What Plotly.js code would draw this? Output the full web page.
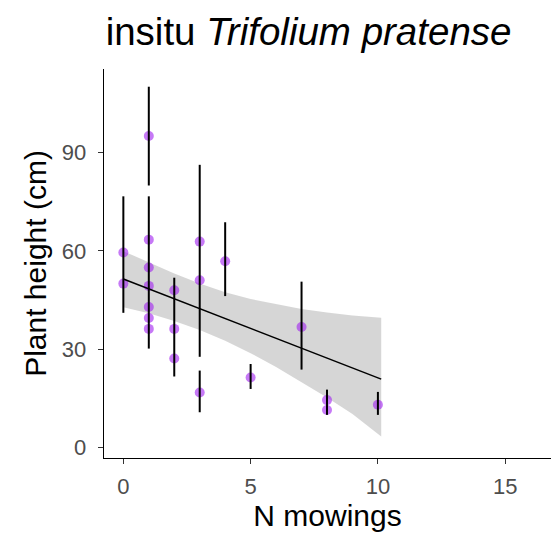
<!DOCTYPE html>
<html>
<head>
<meta charset="utf-8">
<script src="https://cdn.plot.ly/plotly-3.0.1.min.js"></script>
<style>html,body{margin:0;padding:0;background:#fff;}#chart{width:551px;height:536px;}</style>
</head>
<body>
<div id="chart"></div>
<script>
// Observations (N mowings vs plant height, cm)
const pointX = [0, 0, 1, 1, 1, 1, 1, 1, 1, 2, 2, 2, 3, 3, 3, 4, 5, 7, 8, 8, 10];
const pointY = [59.5, 50.0, 95.0, 63.4, 54.9, 49.3, 42.9, 39.5, 36.2, 48.0, 36.2, 27.2, 62.8, 51.0, 16.8, 56.8, 21.4, 36.8, 14.5, 11.5, 13.1];

// Error bars (vertical segments)
const errX    = [0, 1, 1, 2, 3, 3, 4, 5, 7, 8, 10];
const errLow  = [41.1, 79.9, 30.2, 21.7, 27.7, 10.8, 46.2, 17.9, 23.8, 10.0, 10.0];
const errHigh = [76.6, 110.0, 76.6, 51.8, 86.2, 23.5, 68.7, 25.5, 50.6, 17.7, 17.0];

// Linear fit and confidence band
const fitX = [0, 10.13];
const fitY = [51.4, 20.9];
const bandX     = [0, 1, 2, 3, 4, 5, 6, 7, 8, 9, 10.13];
const bandUpper = [59.9, 56.4, 53.1, 50.0, 47.4, 45.3, 43.7, 42.3, 41.2, 40.3, 39.6];
const bandLower = [42.8, 41.0, 38.6, 35.9, 32.6, 28.8, 24.6, 20.0, 15.3, 10.3, 3.4];

const xTicks = [0, 5, 10, 15];
const yTicks = [0, 30, 60, 90];

const ebx = [], eby = [];
errX.forEach((x, i) => { ebx.push(x, x, null); eby.push(errLow[i], errHigh[i], null); });

const traces = [
  {x: bandX, y: bandLower, mode: 'lines', line: {width: 0}, hoverinfo: 'skip', showlegend: false},
  {x: bandX, y: bandUpper, mode: 'lines', line: {width: 0}, fill: 'tonexty', fillcolor: 'rgba(153,153,153,0.4)', hoverinfo: 'skip', showlegend: false},
  {x: pointX, y: pointY, mode: 'markers', marker: {size: 10, color: 'rgba(160,32,240,0.6)', line: {width: 0}}, showlegend: false},
  {x: ebx, y: eby, mode: 'lines', line: {color: '#000', width: 2}, showlegend: false},
  {x: fitX, y: fitY, mode: 'lines', line: {color: '#000', width: 1.5}, showlegend: false}
];

const fontFam = 'Liberation Sans, Arial, sans-serif';
const layout = {
  width: 551, height: 536,
  margin: {l: 104, r: 0, t: 69, b: 78, pad: 0},
  paper_bgcolor: '#fff', plot_bgcolor: '#fff',
  font: {family: fontFam},
  title: {text: 'insitu <i>Trifolium pratense</i>', font: {size: 38.5, color: '#000', family: fontFam},
          x: 0.56, xref: 'container', xanchor: 'center', y: 0.942, yref: 'container', yanchor: 'middle'},
  xaxis: {
    range: [-0.76, 16.8], tickvals: xTicks, ticktext: xTicks.map(String),
    showgrid: false, zeroline: false, showline: true, linecolor: '#000', linewidth: 1.3,
    ticks: 'outside', ticklen: 5, tickwidth: 1.2, tickcolor: '#333',
    tickfont: {size: 22, color: '#4D4D4D', family: fontFam}, ticklabelstandoff: 3,
    title: {text: 'N mowings', font: {size: 30, color: '#000', family: fontFam}, standoff: 6},
    automargin: false
  },
  yaxis: {
    range: [-3.14, 115.4], tickvals: yTicks, ticktext: yTicks.map(String),
    showgrid: false, zeroline: false, showline: true, linecolor: '#000', linewidth: 1.3,
    ticks: 'outside', ticklen: 5, tickwidth: 1.2, tickcolor: '#333',
    tickfont: {size: 22, color: '#4D4D4D', family: fontFam}, ticklabelstandoff: 7,
    title: {text: 'Plant height (cm)', font: {size: 30, color: '#000', family: fontFam}, standoff: 6},
    automargin: false
  }
};

Plotly.newPlot('chart', traces, layout, {displayModeBar: false, staticPlot: true});
</script>
</body>
</html>
